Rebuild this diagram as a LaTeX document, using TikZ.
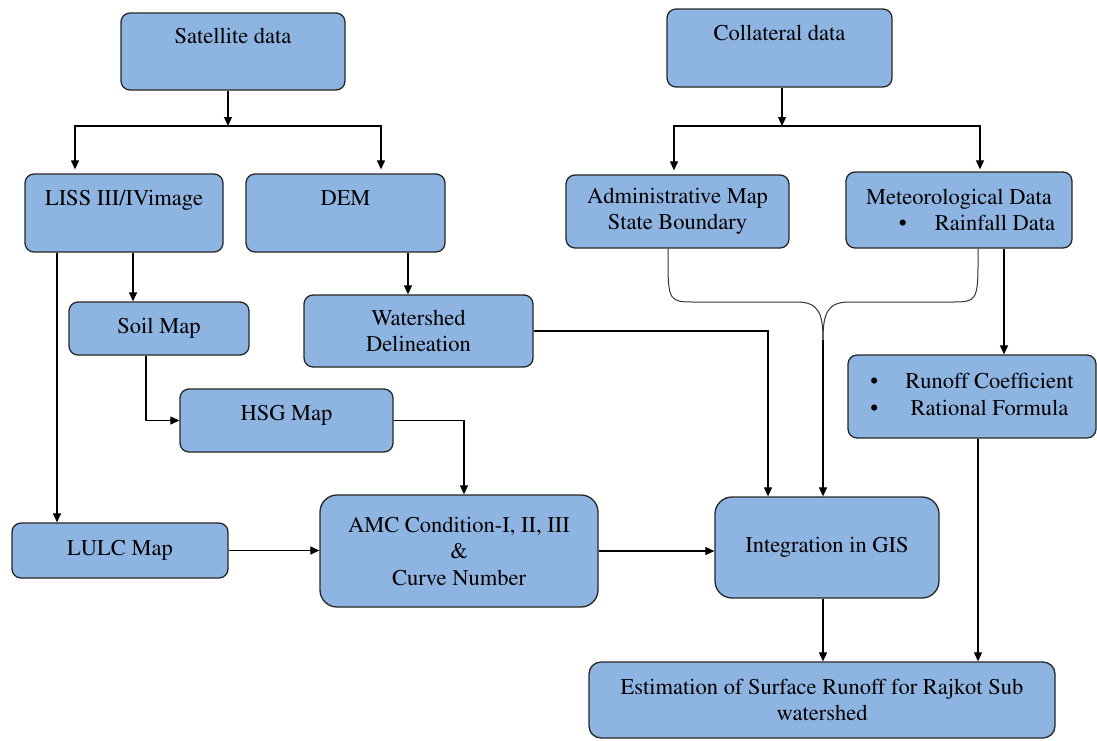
\documentclass[tikz,border=0pt]{standalone}
\usepackage[T1]{fontenc}
\usepackage{mathptmx}
\usetikzlibrary{arrows.meta}
\definecolor{boxblue}{RGB}{142,180,226}
\tikzset{
  blk/.style={draw=black!85, line width=1.3pt, fill=boxblue, rounded corners=9pt, inner sep=0pt, align=center, text=black},
  arr/.style={line width=1.2pt, -{Triangle[length=9pt,width=8pt]}},
  brc/.style={line width=1pt, draw=black!80},
}

\begin{document}
\begin{tikzpicture}[x=1pt, y=-1pt, font=\fontsize{22.5pt}{26.5pt}\selectfont]
  \useasboundingbox (0,0) rectangle (1097,740);
  % sources
  \node[blk, anchor=base, minimum width=224pt, text height=30pt, text depth=47pt] (sat) at (233,43) {Satellite data};
  \node[blk, anchor=base, minimum width=225pt, text height=31pt, text depth=47pt] (col) at (779.5,40) {Collateral data};
  %
  \node[blk, anchor=base, minimum width=198pt, text height=31pt, text depth=47pt] (liss) at (124,205) {LISS III/IVimage};
  \node[blk, anchor=base, minimum width=199pt, text height=31pt, text depth=47pt] (dem) at (345.5,205) {DEM};
  \node[blk, minimum width=223pt, minimum height=73pt] (adm) at (677.5,211.5) {Administrative Map\\State Boundary};
  \node[blk, minimum width=226pt, minimum height=76pt] (met) at (959,210) {Meteorological Data\\\hspace*{36pt}\textbullet\hspace{28pt}Rainfall Data};
  %
  \node[blk, minimum width=180pt, minimum height=53pt] (soil) at (159,328.5) {Soil Map};
  \node[blk, minimum width=229pt, minimum height=72pt] (wat) at (418.5,331) {Watershed\\Delineation};
  \node[blk, minimum width=248pt, minimum height=83pt] (run) at (972,396.5) {\begin{tabular}{@{}c@{\hspace{27pt}}c@{}}\textbullet & Runoff Coefficient\\ \textbullet & Rational Formula\end{tabular}};
  \node[blk, anchor=base, minimum width=213pt, text height=31pt, text depth=32pt] (hsg) at (286.5,420) {HSG Map};
  %
  \node[blk, minimum width=216pt, minimum height=55pt] (lulc) at (120,550.5) {LULC Map};
  \node[blk, rounded corners=17pt, minimum width=278pt, minimum height=112pt] (amc) at (459,551) {AMC Condition-I, II, III\\\&\\Curve Number};
  \node[blk, rounded corners=17pt, minimum width=224pt, minimum height=101pt] (gis) at (827,547.5) {Integration in GIS};
  \node[blk, rounded corners=12pt, minimum width=466pt, minimum height=76pt] (est) at (822,700) {Estimation of Surface Runoff for Rajkot Sub\\watershed};
  %
  \coordinate (satjn) at (228,126);
  \draw[arr] (sat.south -| satjn) -- (satjn);
  \draw[arr, shorten >=4pt] (satjn) -| ([xshift=-49pt]liss.north);
  \draw[arr, shorten >=4pt] (satjn) -| ([xshift=35.5pt]dem.north);
  \coordinate (coljn) at (782,126);
  \draw[arr] (col.south -| coljn) -- (coljn);
  \draw[arr, shorten >=4pt] (coljn) -| ([xshift=-3.5pt]adm.north);
  \draw[arr, shorten >=2pt] (coljn) -| ([xshift=21pt]met.north);
  %
  \draw[arr] ([xshift=9pt]liss.south) -- ([xshift=9pt]liss.south |- soil.north);
  \draw[arr] ([xshift=-67pt]liss.south) -- ([xshift=-67pt]liss.south |- lulc.north);
  \draw[arr] ([xshift=62.5pt]dem.south) -- ([xshift=62.5pt]dem.south |- wat.north);
  \draw[arr] ([xshift=-13pt]soil.south) |- (hsg.west);
  \draw[arr] (hsg.east) -| ([xshift=5pt]amc.north);
  \draw[arr] (lulc.east) -- (lulc.east -| amc.west);
  \draw[arr] (amc.east) -- (amc.east -| gis.west);
  \draw[arr] (wat.east) -| ([xshift=-59pt]gis.north);
  %
  \coordinate (brj) at (823,340);
  \draw[brc] ([xshift=-9.5pt]adm.south) -- ++(0,16) .. controls +(0,36) and +(-22,0) .. (693,302) -- (797,302) .. controls +(22,0) and +(0,-26) .. (brj);
  \draw[brc] ([xshift=19pt]met.south) -- ++(0,16) .. controls +(0,36) and +(22,0) .. (953,302) -- (849,302) .. controls +(-22,0) and +(0,-26) .. (brj);
  \draw[arr] (brj) -- (brj |- gis.north);
  %
  \draw[arr] ([xshift=45pt]met.south) -- ([xshift=45pt]met.south |- run.north);
  \draw[arr] ([xshift=6pt]run.south) -- ([xshift=6pt]run.south |- est.north);
  \draw[arr] ([xshift=-4pt]gis.south) -- ([xshift=-4pt]gis.south |- est.north);
\end{tikzpicture}
\end{document}
